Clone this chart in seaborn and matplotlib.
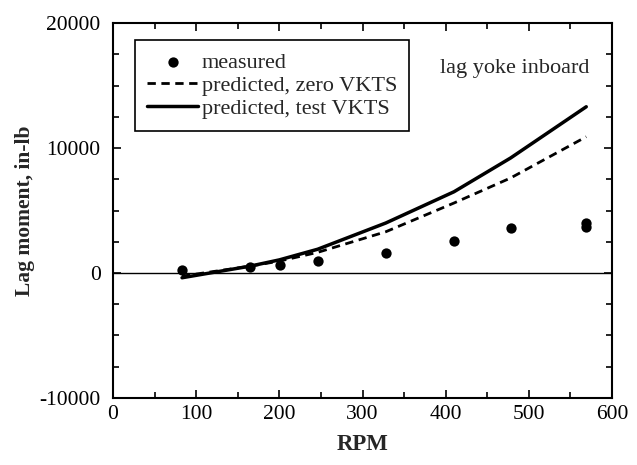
import matplotlib
matplotlib.use("Agg")
import matplotlib.pyplot as plt
import seaborn as sns
import pandas as pd
from matplotlib.ticker import MultipleLocator

meas_rpm = [83, 165, 201, 246, 328, 410, 478, 569, 569]
meas_mom = [250, 480, 650, 950, 1600, 2560, 3620, 3700, 4000]

pred_rpm = [83, 165, 200, 246, 328, 410, 478, 569]
pred_zero = [-250, 550, 950, 1650, 3300, 5600, 7600, 10900]
pred_test = [-380, 550, 1050, 1900, 4000, 6500, 9200, 13300]

sns.set_style("ticks")
plt.rcParams['font.family'] = ['Liberation Serif', 'DejaVu Serif']
plt.rcParams['axes.unicode_minus'] = False

fig = plt.figure(figsize=(6.37, 4.65), dpi=100)
ax = fig.add_axes([0.1774, 0.1441, 0.7834, 0.8064])

ax.axhline(0, color='black', lw=1.0, zorder=1)

df_m = pd.DataFrame({"rpm": meas_rpm, "mom": meas_mom})
df_z = pd.DataFrame({"rpm": pred_rpm, "mom": pred_zero})
df_t = pd.DataFrame({"rpm": pred_rpm, "mom": pred_test})

sns.scatterplot(data=df_m, x="rpm", y="mom", ax=ax, color='black', s=55,
                edgecolor='black', linewidth=0, label='measured', zorder=3)
sns.lineplot(data=df_z, x="rpm", y="mom", ax=ax, color='black', lw=2,
             linestyle=(0, (3, 2)), label='predicted, zero VKTS', sort=False)
sns.lineplot(data=df_t, x="rpm", y="mom", ax=ax, color='black', lw=2.5,
             label='predicted, test VKTS', sort=False)

ax.set_xlim(0, 600)
ax.set_ylim(-10000, 20000)
ax.xaxis.set_major_locator(MultipleLocator(100))
ax.xaxis.set_minor_locator(MultipleLocator(50))
ax.yaxis.set_major_locator(MultipleLocator(10000))
ax.yaxis.set_minor_locator(MultipleLocator(2500))
ax.tick_params(which='both', direction='in', top=True, right=True, width=1.2,
               labelsize=15.5, colors='black')
ax.tick_params(which='major', length=6)
ax.tick_params(which='minor', length=4)
ax.tick_params(axis='y', which='major', pad=9)
ax.tick_params(axis='x', which='major', pad=5)
for s in ax.spines.values():
    s.set_linewidth(1.5)
    s.set_color('black')

ax.set_xlabel("RPM", fontsize=16.5, fontweight='bold', labelpad=7)
ax.set_ylabel("Lag moment, in-lb", fontsize=15.5, fontweight='bold', labelpad=3)

ax.text(0.954, 0.88, "lag yoke inboard", transform=ax.transAxes, ha='right',
        va='center', fontsize=16)

leg = ax.legend(loc='upper left', bbox_to_anchor=(0.044, 0.955), fontsize=16,
                frameon=True, fancybox=False, edgecolor='black', framealpha=1,
                handlelength=2.3, handletextpad=0.15, borderpad=0.55,
                labelspacing=0.12, borderaxespad=0)
leg.get_frame().set_linewidth(1.2)

fig.savefig("out.png", dpi=100)
